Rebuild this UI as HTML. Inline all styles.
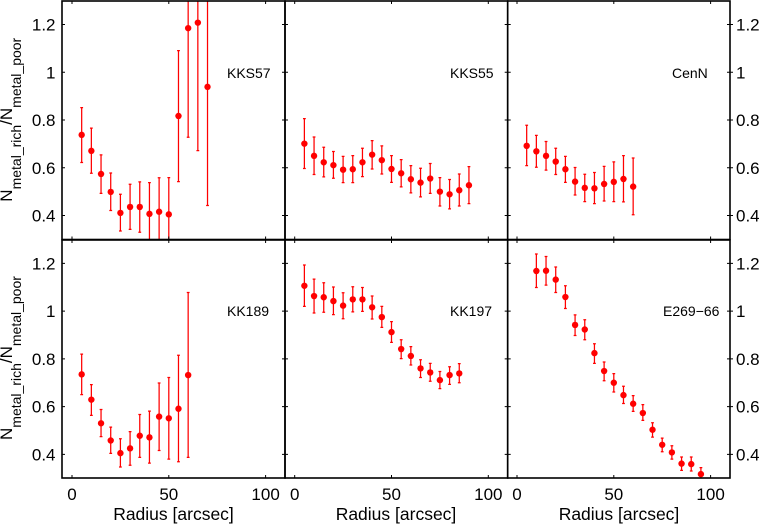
<!DOCTYPE html>
<html lang="en">
<head>
<meta charset="utf-8">
<title>Metallicity ratio profiles</title>
<style>
html,body{margin:0;padding:0;background:#fff;width:759px;height:524px;overflow:hidden}
svg{display:block}
text{font-family:"Liberation Sans",sans-serif;fill:#000}
</style>
</head>
<body>
<svg id="chart" xmlns="http://www.w3.org/2000/svg" width="759" height="524" viewBox="0 0 759 524">
  <rect x="0" y="0" width="759" height="524" fill="#fff"/>
  <g id="panels"></g>
  <text transform="translate(12,201.7) rotate(-90)" font-size="17">N<tspan font-size="14" dy="9">metal_rich</tspan><tspan dy="-9">/N</tspan><tspan font-size="14" dy="9">metal_poor</tspan></text>
  <text transform="translate(12,440) rotate(-90)" font-size="17">N<tspan font-size="14" dy="9">metal_rich</tspan><tspan dy="-9">/N</tspan><tspan font-size="14" dy="9">metal_poor</tspan></text>
  <text x="173.5" y="520" font-size="17.5" text-anchor="middle">Radius [arcsec]</text>
  <text x="396" y="520" font-size="17.5" text-anchor="middle">Radius [arcsec]</text>
  <text x="619" y="520" font-size="17.5" text-anchor="middle">Radius [arcsec]</text>
  <text x="227" y="78" font-size="14">KKS57</text>
  <text x="450" y="78" font-size="14">KKS55</text>
  <text x="672" y="78" font-size="14">CenN</text>
  <text x="227" y="316" font-size="14">KK189</text>
  <text x="450" y="316" font-size="14">KK197</text>
  <text x="663" y="316" font-size="14">E269−66</text>
</svg>
<script>
const xTicks = [0, 50, 100];
const yTicks = [0.4, 0.6, 0.8, 1, 1.2];
const yTickLabels = ['0.4', '0.6', '0.8', '1', '1.2'];

const kks57Radius = [5,10,15,20,25,30,35,40,45,50,55,60,65,70];
const kks57Value = [.738,.671,.574,.499,.411,.436,.436,.407,.416,.405,.817,1.185,1.208,.939];
const kks57Upper = [.852,.766,.654,.578,.489,.531,.541,.538,.558,.559,1.091,1.643,1.745,1.437];
const kks57Lower = [.622,.577,.493,.421,.335,.342,.330,.276,.274,.251,.542,.728,.672,.442];

const kks55Radius = [5,10,15,20,25,30,35,40,45,50,55,60,65,70,75,80,85,90];
const kks55Value = [.701,.650,.623,.611,.592,.594,.623,.655,.632,.595,.577,.552,.538,.555,.500,.489,.506,.527];
const kks55Upper = [.806,.729,.686,.668,.648,.651,.682,.714,.692,.651,.634,.609,.598,.618,.559,.551,.574,.605];
const kks55Lower = [.597,.572,.562,.556,.538,.538,.563,.595,.574,.539,.520,.495,.478,.493,.440,.428,.440,.450];

const cennRadius = [5,10,15,20,25,30,35,40,45,50,55,60];
const cennValue = [.692,.669,.650,.626,.594,.542,.516,.514,.532,.541,.553,.521];
const cennUpper = [.778,.736,.710,.682,.648,.601,.573,.580,.606,.625,.651,.641];
const cennLower = [.609,.602,.590,.572,.539,.486,.458,.450,.461,.458,.457,.403];

const kk189Radius = [5,10,15,20,25,30,35,40,45,50,55,60];
const kk189Value = [.735,.629,.530,.458,.405,.425,.478,.471,.558,.551,.591,.732];
const kk189Upper = [.820,.692,.588,.514,.465,.495,.567,.581,.699,.722,.815,1.078];
const kk189Lower = [.650,.563,.474,.404,.347,.354,.387,.363,.416,.380,.369,.387];

const kk197Radius = [5,10,15,20,25,30,35,40,45,50,55,60,65,70,75,80,85];
const kk197Value = [1.106,1.063,1.058,1.042,1.023,1.049,1.049,1.016,.975,.912,.841,.812,.760,.743,.711,.732,.739];
const kk197Upper = [1.193,1.134,1.119,1.101,1.077,1.102,1.099,1.063,1.020,.956,.880,.851,.796,.781,.747,.767,.780];
const kk197Lower = [1.020,.992,.995,.985,.968,.997,.999,.967,.932,.869,.801,.774,.722,.706,.675,.693,.700];

const e26966Radius = [10,15,20,25,30,35,40,45,50,55,60,65,70,75,80,85,90,95];
const e26966Value = [1.168,1.169,1.132,1.059,.942,.923,.824,.749,.700,.648,.612,.573,.503,.440,.408,.361,.359,.317];
const e26966Upper = [1.239,1.229,1.185,1.106,.984,.964,.863,.787,.738,.685,.646,.608,.532,.468,.436,.389,.389,.344];
const e26966Lower = [1.099,1.109,1.078,1.011,.898,.880,.781,.708,.661,.613,.580,.542,.472,.411,.380,.333,.330,.292];

const NS = 'http://www.w3.org/2000/svg';
const root = document.getElementById('panels');

function make(parent, tag, attrs) {
  const el = document.createElementNS(NS, tag);
  for (const k in attrs) el.setAttribute(k, attrs[k]);
  parent.appendChild(el);
  return el;
}

function drawPanel(p) {
  const xScale = v => p.x0 + v * 1.936;
  const yScale = v => p.yAt1 + (1 - v) * 238.7;

  const g = make(root, 'g', {});
  
  

  const clip = make(g, 'clipPath', { id: 'clip-' + p.name });
  make(clip, 'rect', { x: p.left, y: p.top, width: p.right - p.left, height: p.bottom - p.top });

  const marks = make(g, 'g', { 'clip-path': 'url(#clip-' + p.name + ')' });
  
  

  p.radius.forEach((r, i) => {
    const cx = xScale(r);
    const bar = make(marks, 'path', {
      d: 'M' + cx + ' ' + yScale(p.upper[i]) + 'V' + yScale(p.lower[i]) +
         'M' + (cx - 1.4) + ' ' + yScale(p.upper[i]) + 'H' + (cx + 1.4) +
         'M' + (cx - 1.4) + ' ' + yScale(p.lower[i]) + 'H' + (cx + 1.4),
      stroke: '#f00', 'stroke-width': 1.25, fill: 'none'
    });
    
    
    const dot = make(marks, 'circle', { cx: cx, cy: yScale(p.value[i]), r: 3.2, fill: '#f00' });
    
    
  });

  xTicks.forEach(t => {
    const x = xScale(t);
    const tick = make(g, 'path', {
      d: 'M' + x + ' ' + p.bottom + 'v-3M' + x + ' ' + p.top + 'v3',
      stroke: '#000', 'stroke-width': 1, fill: 'none'
    });
    
    
    if (p.showX) {
      const label = make(g, 'text', { x: x, y: 500, 'font-size': 17, 'text-anchor': 'middle' });
      label.textContent = String(t);
      
      
    }
  });

  yTicks.forEach((t, i) => {
    const y = yScale(t);
    const tick = make(g, 'path', {
      d: 'M' + p.left + ' ' + y + 'h3M' + p.right + ' ' + y + 'h-3' + (p.outerRight ? 'M' + p.right + ' ' + y + 'h3' : ''),
      stroke: '#000', 'stroke-width': 1, fill: 'none'
    });
    
    
    if (p.labelLeft) {
      const label = make(g, 'text', { x: 55.5, y: y + 6, 'font-size': 17, 'text-anchor': 'end' });
      label.textContent = yTickLabels[i];
      
      
    }
    if (p.labelRight) {
      const label = make(g, 'text', { x: 736, y: y + 6, 'font-size': 17 });
      label.textContent = yTickLabels[i];
      
      
    }
  });

  const frame = make(g, 'rect', {
    x: p.left, y: p.top, width: p.right - p.left, height: p.bottom - p.top,
    fill: 'none', stroke: '#000', 'stroke-width': 1.6
  });
  
  
}

const T = { top: 1, bottom: 239.5, yAt1: 72.3 };
const B = { top: 240, bottom: 478, yAt1: 311.1 };
const C1 = { left: 62, right: 285, x0: 72 };
const C2 = { left: 285, right: 507.7, x0: 294.7 };
const C3 = { left: 507.7, right: 730, x0: 517 };

drawPanel({ name: 'kks57', ...T, ...C1, radius: kks57Radius, value: kks57Value, upper: kks57Upper, lower: kks57Lower, labelLeft: true });
drawPanel({ name: 'kks55', ...T, ...C2, radius: kks55Radius, value: kks55Value, upper: kks55Upper, lower: kks55Lower });
drawPanel({ name: 'cenn', ...T, ...C3, radius: cennRadius, value: cennValue, upper: cennUpper, lower: cennLower, labelRight: true, outerRight: true });
drawPanel({ name: 'kk189', ...B, ...C1, radius: kk189Radius, value: kk189Value, upper: kk189Upper, lower: kk189Lower, labelLeft: true, showX: true });
drawPanel({ name: 'kk197', ...B, ...C2, radius: kk197Radius, value: kk197Value, upper: kk197Upper, lower: kk197Lower, showX: true });
drawPanel({ name: 'e269-66', ...B, ...C3, radius: e26966Radius, value: e26966Value, upper: e26966Upper, lower: e26966Lower, labelRight: true, outerRight: true, showX: true });
</script>
</body>
</html>
